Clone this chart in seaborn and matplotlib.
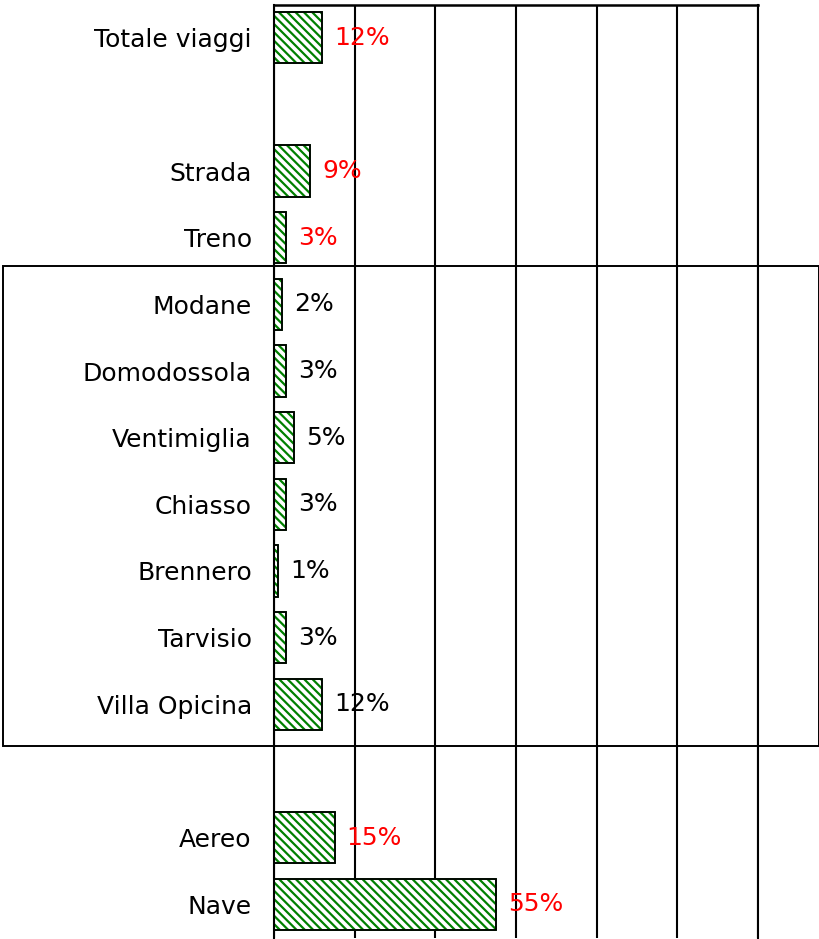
import matplotlib
matplotlib.use("Agg")
import matplotlib.pyplot as plt
from matplotlib.patches import Rectangle
import seaborn as sns
import pandas as pd

# Share of trips by mode of transport and border crossing (%)
categories = ["Totale viaggi", "Strada", "Treno", "Modane", "Domodossola",
              "Ventimiglia", "Chiasso", "Brennero", "Tarvisio", "Villa Opicina",
              "Aereo", "Nave"]
values = [12, 9, 3, 2, 3, 5, 3, 1, 3, 12, 15, 55]
label_colors = ["red", "red", "red", "black", "black", "black", "black",
                "black", "black", "black", "red", "red"]

# Row order, with empty slots separating the groups
row_order = ["Totale viaggi", " ", "Strada", "Treno", "Modane", "Domodossola",
             "Ventimiglia", "Chiasso", "Brennero", "Tarvisio", "Villa Opicina",
             "  ", "Aereo", "Nave"]
x_ticks = [0, 20, 40, 60, 80, 100, 120]

df = pd.DataFrame({"categoria": categories, "quota": values})

sns.set_style("white")
plt.rcParams["font.family"] = ["DejaVu Sans"]
plt.rcParams["hatch.linewidth"] = 1.6

BACKSLASH = chr(92)
FONT = 18

fig = plt.figure(figsize=(8.2, 9.39), dpi=100)
ax = fig.add_axes([274 / 820, 1.5 / 939, (758 - 274) / 820, (937.5 - 4.5) / 939])

# hatched fill (hatch colour follows the edge colour)
sns.barplot(data=df, x="quota", y="categoria", order=row_order, orient="h",
            color="white", edgecolor="green", hatch=BACKSLASH * 4, linewidth=1.2,
            width=0.77, errorbar=None, saturation=1, ax=ax)
# black outline on top
sns.barplot(data=df, x="quota", y="categoria", order=row_order, orient="h",
            color="black", fill=False, linewidth=1.3,
            width=0.77, errorbar=None, saturation=1, ax=ax)

for cat, v, c in zip(categories, values, label_colors):
    ax.text(v + 3.0, row_order.index(cat), f"{v}%", color=c, fontsize=FONT,
            ha="left", va="center")

ax.set_xlim(0, 120)
ax.set_ylim(len(row_order) - 0.5, -0.5)
ax.set_xticks(x_ticks)
ax.set_xticklabels([])
ax.tick_params(axis="x", length=0)
ax.tick_params(axis="y", length=0, pad=16, labelsize=FONT, labelcolor="black")
ax.set_xlabel("")
ax.set_ylabel("")
ax.grid(axis="x", color="black", linewidth=1.5)
ax.grid(axis="y", visible=False)
ax.set_axisbelow(True)

ax.spines["bottom"].set_visible(False)
for side, lw in [("left", 1.5), ("right", 1.5), ("top", 1.8)]:
    ax.spines[side].set_visible(True)
    ax.spines[side].set_color("black")
    ax.spines[side].set_linewidth(lw)

# frame around the rail border crossings
fig.patches.append(Rectangle((3 / 820, 1 - 746 / 939), (819 - 3) / 820,
                             (746 - 266) / 939, transform=fig.transFigure,
                             fill=False, edgecolor="black", linewidth=1.4))

fig.savefig("out.png", dpi=100)
